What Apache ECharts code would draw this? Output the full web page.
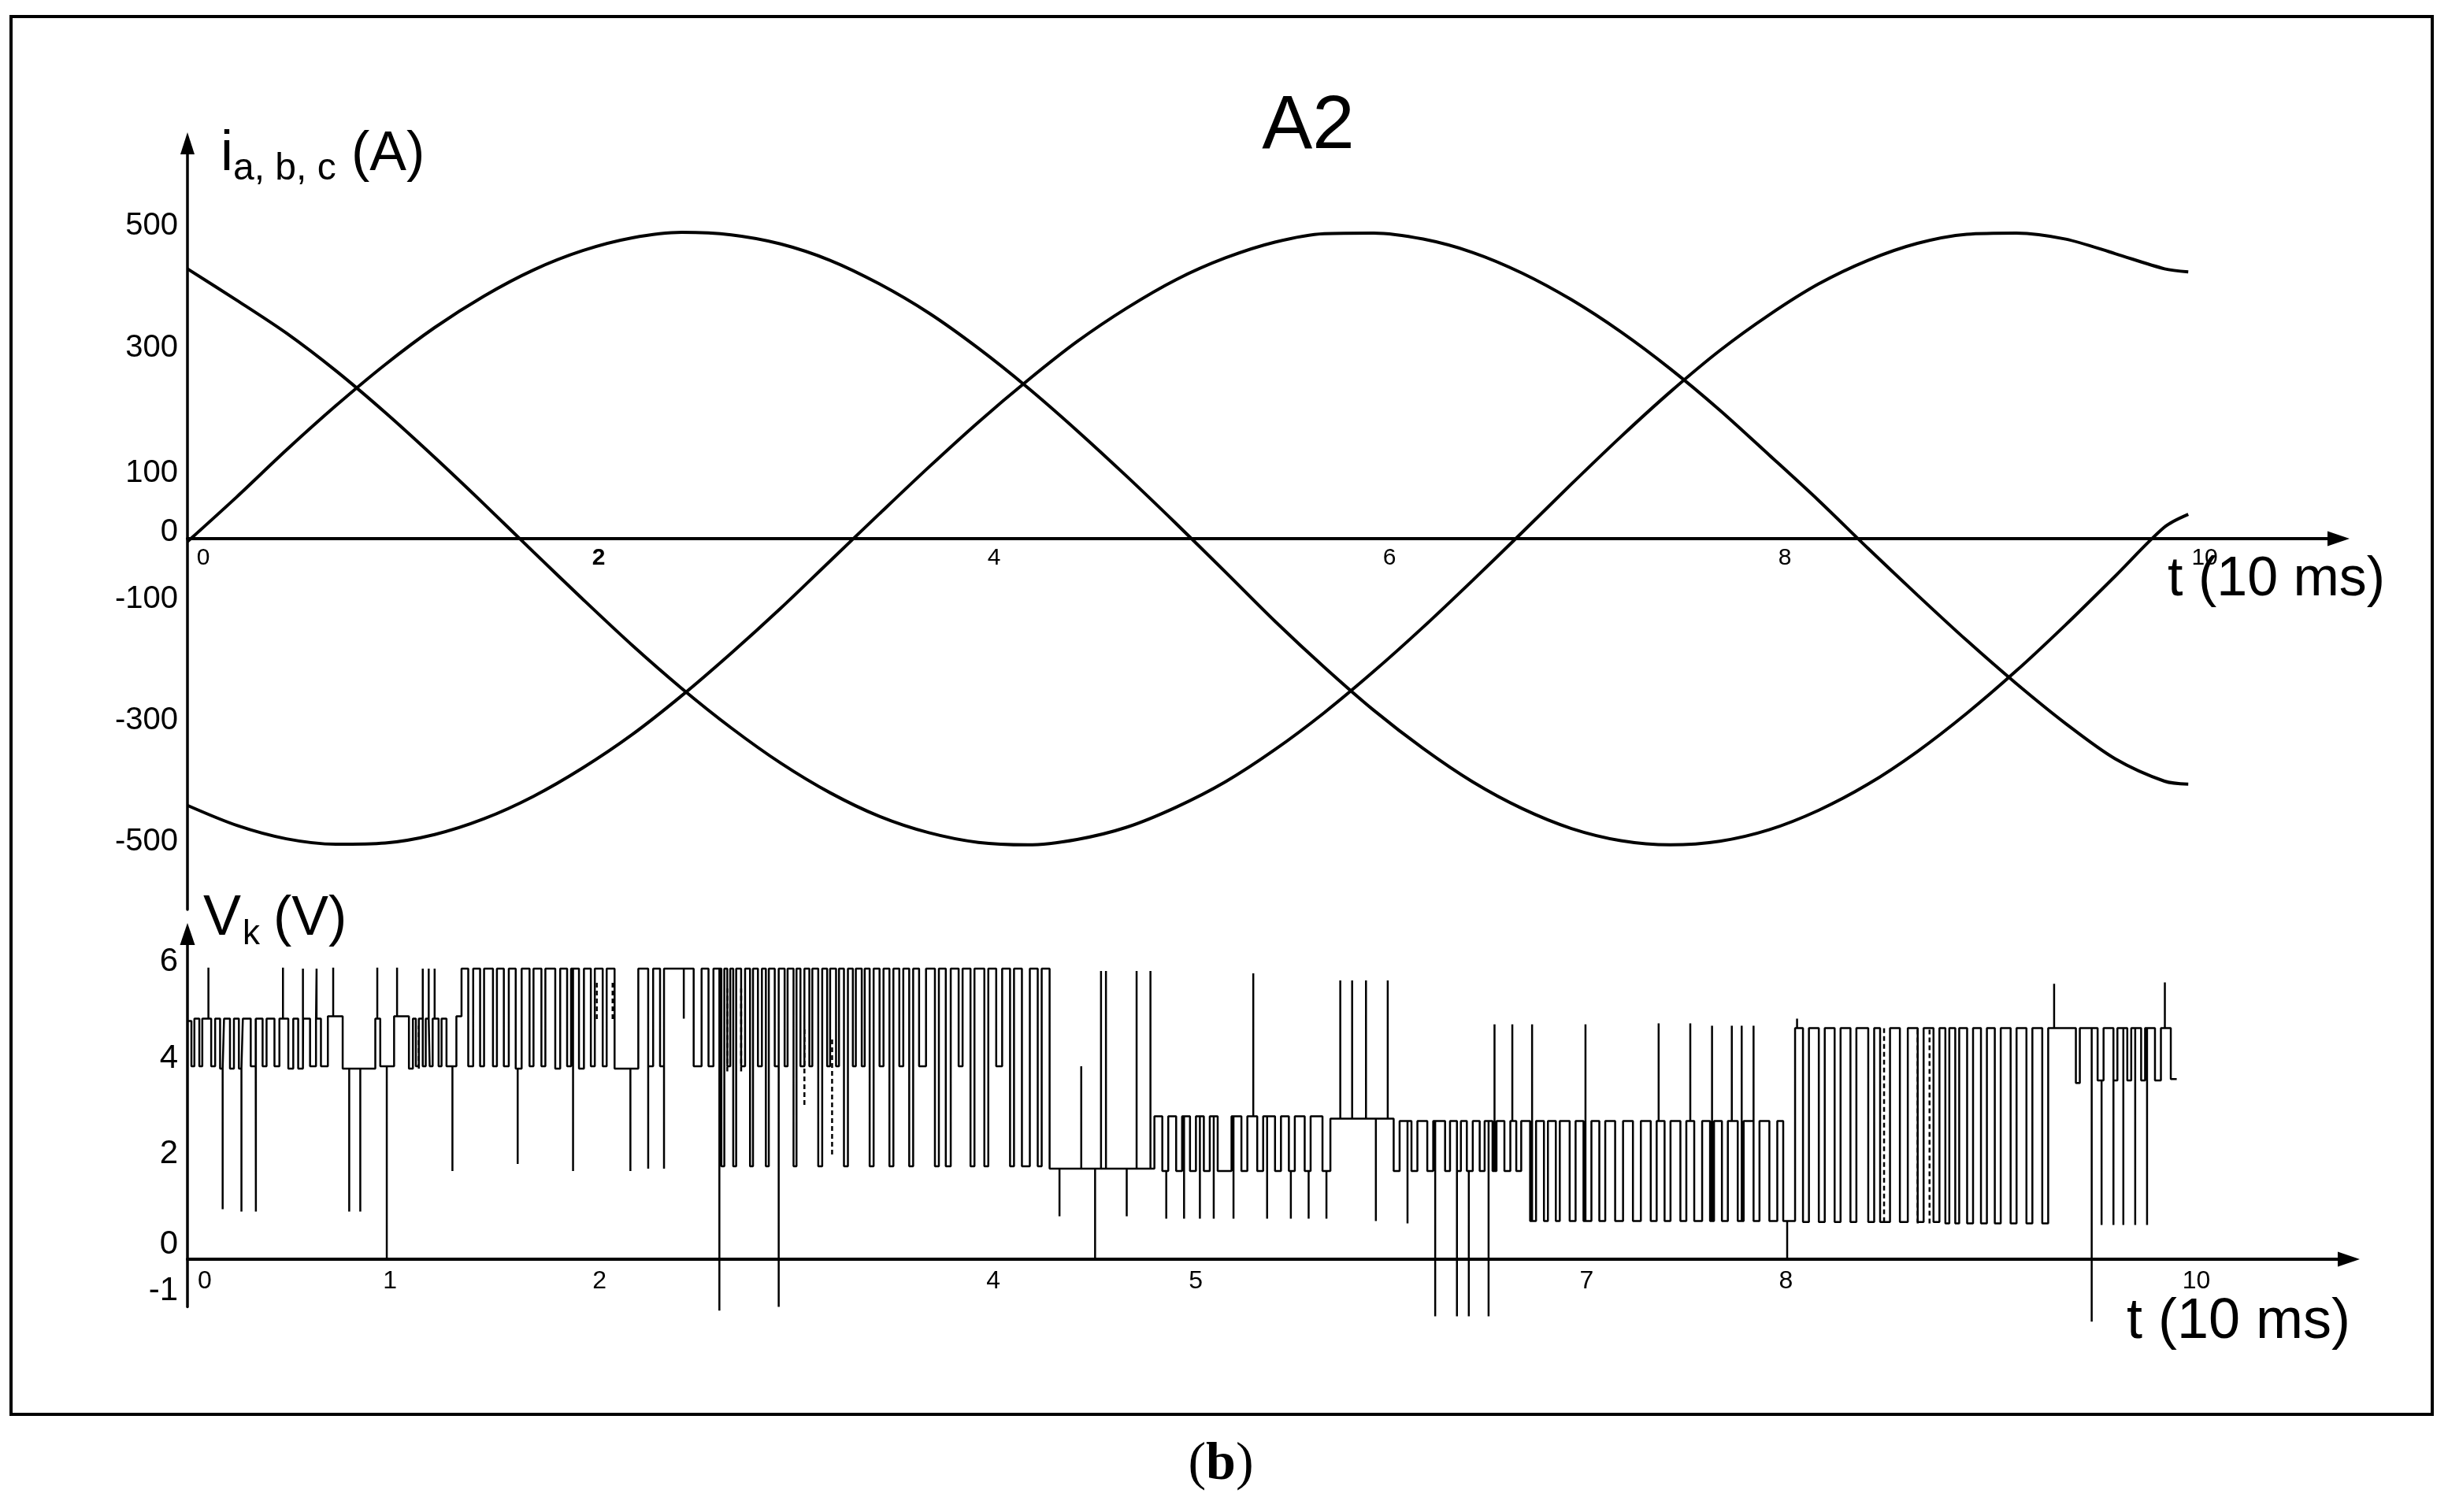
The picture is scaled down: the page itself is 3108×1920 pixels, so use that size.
<!DOCTYPE html>
<html>
<head>
<meta charset="utf-8">
<title>A2</title>
<script src="https://cdn.jsdelivr.net/npm/echarts@6.0.0/dist/echarts.min.js"></script>
<style>
  html, body { margin: 0; padding: 0; background: #fff; }
  #chart { width: 3108px; height: 1920px; }
</style>
</head>
<body>
<div id="chart"></div>
<script>
// phase currents i_a, i_b, i_c (A), every 0.25 (x 10 ms)
const tSample = [0, 0.25, 0.5, 0.75, 1, 1.25, 1.5, 1.75, 2, 2.25, 2.5, 2.75, 3, 3.25, 3.5, 3.75, 4, 4.25, 4.5, 4.75,
  5, 5.25, 5.5, 5.75, 6, 6.25, 6.5, 6.75, 7, 7.25, 7.5, 7.75, 8, 8.25, 8.5, 8.75, 9, 9.25, 9.5, 9.75, 10, 10.12];
const iA = [445, 393, 339, 277, 208, 134, 57, -22, -100, -176, -247, -312, -370, -419, -458, -485, -501, -505, -496, -476,
  -443, -401, -348, -287, -219, -146, -69, 10, 90, 168, 242, 310, 369, 420, 459, 487, 502, 504, 494, 470, 445, 440];
const iB = [-5, 69, 146, 219, 287, 348, 400, 443, 475, 496, 505, 501, 486, 459, 420, 372, 314, 249, 178, 103,
  25, -55, -136, -212, -283, -346, -401, -445, -478, -498, -505, -499, -480, -448, -405, -351, -288, -218, -142, -62, 19, 40];
const iC = [-440, -473, -495, -504, -502, -488, -462, -425, -378, -323, -259, -189, -115, -37, 41, 118, 192, 261, 325, 380,
  427, 463, 489, 503, 504, 494, 472, 438, 394, 341, 280, 212, 138, 63, -16, -93, -168, -239, -305, -363, -400, -405];

// V_k (V): level changes [t, new level] and short spikes [t, tip]
const vkEdges = [
  [0, 5.0], [0.02, 4.05], [0.035, 5.05], [0.06, 4.05], [0.075, 5.05], [0.12, 4.05], [0.14, 5.05], [0.165, 4.0],
  [0.185, 5.05], [0.215, 4.0], [0.235, 5.05], [0.26, 4.0], [0.28, 5.05], [0.32, 4.05], [0.345, 5.05], [0.38, 4.05],
  [0.40, 5.05], [0.44, 4.05], [0.465, 5.05], [0.51, 4.0], [0.535, 5.05], [0.56, 4.0], [0.585, 5.05], [0.62, 4.05],
  [0.65, 5.05], [0.675, 4.05], [0.71, 5.1], [0.785, 4.0],
  [0.95, 5.05], [0.975, 4.05], [1.045, 5.1], [1.12, 4.0],
  [1.14, 5.05], [1.155, 4.05], [1.17, 5.05], [1.19, 4.05], [1.205, 5.05], [1.225, 4.05], [1.24, 5.05], [1.27, 4.05],
  [1.285, 5.05], [1.31, 4.05], [1.36, 5.1],
  [1.386, 6.1], [1.42, 4.05], [1.445, 6.1], [1.48, 4.05], [1.50, 6.1], [1.545, 4.05], [1.565, 6.1], [1.60, 4.05],
  [1.625, 6.1], [1.66, 4.0], [1.69, 6.1], [1.73, 4.05], [1.75, 6.1], [1.79, 4.05], [1.81, 6.1], [1.86, 4.0],
  [1.885, 6.1], [1.92, 4.05], [1.94, 6.1], [1.98, 4.0], [2.005, 6.1], [2.04, 4.05], [2.06, 6.1], [2.10, 4.05],
  [2.12, 6.1], [2.16, 4.0],
  [2.28, 6.1], [2.33, 4.05], [2.355, 6.1], [2.39, 4.05], [2.41, 6.1], [2.56, 4.05],
  [2.60, 6.1], [2.635, 4.05], [2.66, 6.1], [2.70, 1.95], [2.715, 6.1], [2.73, 4.05], [2.745, 6.1], [2.76, 1.95],
  [2.775, 6.1], [2.80, 4.05], [2.82, 6.1], [2.845, 1.95], [2.86, 6.1], [2.885, 4.05], [2.905, 6.1], [2.925, 1.95],
  [2.94, 6.1], [2.97, 4.05], [2.99, 6.1], [3.02, 4.05], [3.035, 6.1], [3.065, 1.95], [3.08, 6.1], [3.10, 4.05],
  [3.12, 6.1], [3.145, 4.05], [3.16, 6.1], [3.19, 1.95], [3.21, 6.1], [3.235, 4.05], [3.25, 6.1], [3.28, 4.05],
  [3.295, 6.1], [3.32, 1.95], [3.34, 6.1], [3.365, 4.05], [3.38, 6.1], [3.41, 4.05], [3.425, 6.1], [3.45, 1.95],
  [3.47, 6.1], [3.50, 4.05], [3.52, 6.1], [3.55, 1.95], [3.57, 6.1], [3.60, 4.05], [3.62, 6.1], [3.65, 1.95],
  [3.67, 6.1], [3.70, 4.05], [3.735, 6.1], [3.78, 1.95], [3.80, 6.1], [3.835, 1.95], [3.86, 6.1], [3.90, 4.05],
  [3.92, 6.1], [3.96, 1.95], [3.98, 6.1], [4.03, 1.95], [4.05, 6.1], [4.09, 4.05], [4.12, 6.1], [4.16, 1.95],
  [4.18, 6.1], [4.22, 1.95], [4.26, 6.1], [4.30, 1.95], [4.32, 6.1], [4.36, 1.9],
  [4.89, 3.0], [4.93, 1.85], [4.96, 3.0], [5.0, 1.85], [5.03, 3.0], [5.07, 1.85], [5.10, 3.0], [5.14, 1.85],
  [5.17, 3.0], [5.21, 1.85], [5.28, 3.0], [5.33, 1.85], [5.36, 3.0], [5.41, 1.85], [5.44, 3.0], [5.50, 1.85],
  [5.53, 3.0], [5.57, 1.85], [5.60, 3.0], [5.65, 1.85], [5.68, 3.0], [5.74, 1.85], [5.78, 2.95],
  [6.10, 1.85], [6.13, 2.9], [6.19, 1.85], [6.22, 2.9], [6.27, 1.85], [6.30, 2.9],
  [6.36, 1.85], [6.385, 2.9], [6.42, 1.85], [6.44, 2.9], [6.47, 1.85], [6.50, 2.9], [6.535, 1.85], [6.56, 2.9],
  [6.60, 1.85], [6.62, 2.9], [6.66, 1.85], [6.69, 2.9], [6.72, 1.85], [6.745, 2.9], [6.79, 0.8], [6.82, 2.9],
  [6.86, 0.8], [6.88, 2.9], [6.92, 0.8], [6.94, 2.9], [6.99, 0.8], [7.02, 2.9], [7.06, 0.8], [7.10, 2.9],
  [7.14, 0.8], [7.17, 2.9], [7.22, 0.8], [7.26, 2.9], [7.31, 0.8], [7.35, 2.9], [7.40, 0.8], [7.43, 2.9],
  [7.47, 0.8], [7.50, 2.9], [7.55, 0.8], [7.58, 2.9], [7.62, 0.8], [7.66, 2.9], [7.70, 0.8], [7.72, 2.9],
  [7.76, 0.8], [7.79, 2.9], [7.84, 0.8], [7.87, 2.9], [7.92, 0.8], [7.95, 2.9], [8.0, 0.8], [8.04, 2.9], [8.07, 0.8],
  [8.13, 4.85], [8.17, 0.78], [8.20, 4.85], [8.25, 0.78], [8.28, 4.85], [8.33, 0.78], [8.36, 4.85], [8.41, 0.78],
  [8.44, 4.85], [8.50, 0.78], [8.53, 4.85], [8.56, 0.78], [8.61, 4.85], [8.66, 0.78], [8.70, 4.85], [8.75, 0.78],
  [8.78, 4.85], [8.83, 0.78], [8.86, 4.85], [8.89, 0.75], [8.91, 4.85], [8.94, 0.75], [8.96, 4.85], [9.0, 0.75],
  [9.03, 4.85], [9.07, 0.75], [9.10, 4.85], [9.14, 0.75], [9.17, 4.85], [9.22, 0.75], [9.25, 4.85], [9.30, 0.75],
  [9.33, 4.85], [9.38, 0.75], [9.41, 4.85], [9.55, 3.7], [9.57, 4.85], [9.66, 3.75], [9.69, 4.85], [9.74, 3.75],
  [9.76, 4.85], [9.81, 3.75], [9.83, 4.85], [9.88, 3.75], [9.90, 4.85], [9.95, 3.75], [9.98, 4.85], [10.03, 3.78],
  [10.06, 3.78]
];
const vkSpikes = [
  [0.106, 6.12], [0.178, 1.05], [0.273, 1.0], [0.346, 1.0], [0.483, 6.12], [0.584, 6.1], [0.653, 6.1], [0.737, 6.12],
  [0.818, 1.0], [0.874, 1.0], [0.96, 6.12], [1.008, 0.0], [1.06, 6.12], [1.19, 6.1], [1.22, 6.1], [1.25, 6.1],
  [1.34, 1.85], [1.67, 2.0], [1.95, 1.85], [2.24, 1.85], [2.33, 1.9], [2.41, 1.9], [2.51, 5.05], [2.69, -1.08],
  [2.99, -1.0], [4.41, 0.9], [4.52, 4.05], [4.59, 0.0], [4.62, 6.05], [4.645, 6.05], [4.75, 0.9], [4.80, 6.05],
  [4.87, 6.05], [4.95, 0.85], [5.04, 0.85], [5.12, 0.85], [5.19, 0.85], [5.29, 0.85], [5.39, 6.0], [5.46, 0.85],
  [5.58, 0.85], [5.67, 0.85], [5.76, 0.85], [5.83, 5.85], [5.89, 5.85], [5.96, 5.85], [6.01, 0.8], [6.07, 5.85],
  [6.17, 0.75], [6.31, -1.2], [6.42, -1.2], [6.48, -1.2], [6.58, -1.2], [6.61, 4.93], [6.70, 4.93], [6.80, 4.93],
  [7.07, 4.93], [7.44, 4.95], [7.60, 4.95], [7.71, 4.9], [7.81, 4.9], [7.86, 4.9], [7.92, 4.9], [8.09, 0.0],
  [8.14, 5.05], [9.44, 5.78], [9.63, -1.31], [9.68, 0.72], [9.74, 0.72], [9.79, 0.72], [9.85, 0.72], [9.91, 0.72],
  [10.0, 5.81]
];
// dotted verticals in the V_k trace: time, lower and upper end (V)
const vkDotT = [1.17, 2.07, 2.15, 2.73, 2.80, 3.12, 3.26, 8.58, 8.75, 8.81];
const vkDotLow = [4.0, 5.04, 5.04, 3.94, 3.94, 3.24, 2.2, 0.78, 0.75, 0.75];
const vkDotHigh = [4.9, 5.85, 5.85, 5.68, 5.68, 4.87, 4.64, 4.86, 4.86, 4.86];

// tick labels
const iTicks = [500, 300, 100, 0, -100, -300, -500];
const tTicksTop = [0, 2, 4, 6, 8, 10];
const vkTicks = [6, 4, 2, 0, -1];
const tTicksBottom = [0, 1, 2, 4, 5, 7, 8, 10];

// turn level changes + spikes into one polyline
function buildTrace(edges, spikes) {
  const ev = [];
  edges.forEach(e => ev.push({ t: e[0], v: e[1], spike: false }));
  spikes.forEach(s => ev.push({ t: s[0], v: s[1], spike: true }));
  ev.sort((a, b) => a.t - b.t);
  const pts = [];
  let cur = null;
  ev.forEach(e => {
    if (!e.spike) {
      if (cur !== null) pts.push([e.t, cur]);
      pts.push([e.t, e.v]);
      cur = e.v;
    } else {
      pts.push([e.t, cur], [e.t, e.v], [e.t, cur]);
    }
  });
  return pts;
}

// separate vertical segments, broken by nulls
const dotted = [];
vkDotT.forEach((t, i) => dotted.push([t, vkDotLow[i]], [t, vkDotHigh[i]], null));

const FONT = 'Liberation Sans, Arial, sans-serif';
const black = '#000';

// the hand-placed labels sit off their ticks: x labels to the right,
// y labels a little above (label box bottom on the tick)
const topShift = { 0: 40, 2: 40, 4: 40, 6: 40, 8: 40, 10: 102 };
const bottomShift = { 0: 44, 1: 12, 2: 42, 4: 38, 5: 50, 7: 38, 8: 42, 10: 80 };
const iLift = { 500: 24, 300: 22, 100: 12, 0: 16, '-100': 1, '-300': 1, '-500': 1 };
const vkLift = { 6: 30, 4: 26, 2: 26, 0: 38, '-1': 40 };

const key = v => 'k' + (v < 0 ? 'm' : 'p') + Math.abs(v);

function shiftRich(shift, size, boldKey) {
  const rich = {};
  Object.keys(shift).forEach(k => {
    rich[key(Number(k))] = {
      fontSize: size, fontFamily: FONT, color: black,
      fontWeight: String(k) === boldKey ? 'bold' : 'normal',
      padding: [0, 0, 0, shift[k]]
    };
  });
  return rich;
}

function liftRich(lift, size) {
  const rich = {};
  Object.keys(lift).forEach(k => {
    rich[key(Number(k))] = { fontSize: size, fontFamily: FONT, color: black, lineHeight: lift[k] };
  });
  return rich;
}

const chart = echarts.init(document.getElementById('chart'), null, { renderer: 'canvas' });

chart.setOption({
  backgroundColor: '#fff',
  animation: false,
  grid: [
    { left: 238, top: 182, width: 2731, height: 973, containLabel: false, outerBoundsMode: 'none' },
    { left: 238, top: 1186, width: 2744, height: 473.5, containLabel: false, outerBoundsMode: 'none' }
  ],
  xAxis: [
    {
      // the t axis sits on i = 0, 471 px above the grid bottom
      gridIndex: 0, type: 'value', min: 0, max: 10.88, position: 'bottom', offset: -471,
      axisLine: { onZero: false, symbol: ['none', 'triangle'], symbolSize: [19, 28], lineStyle: { color: black, width: 4 } },
      axisTick: { show: false }, splitLine: { show: false },
      axisLabel: {
        customValues: tTicksTop, margin: 10,
        formatter: v => '{' + key(v) + '|' + v + '}',
        rich: shiftRich(topShift, 30, '2')
      }
    },
    {
      gridIndex: 1, type: 'value', min: 0, max: 10.93, position: 'bottom', offset: -60.5,
      axisLine: { onZero: false, symbol: ['none', 'triangle'], symbolSize: [19, 28], lineStyle: { color: black, width: 4 } },
      axisTick: { show: false }, splitLine: { show: false },
      axisLabel: {
        customValues: tTicksBottom, margin: 12,
        formatter: v => '{' + key(v) + '|' + v + '}',
        rich: shiftRich(bottomShift, 32, null)
      }
    }
  ],
  yAxis: [
    {
      gridIndex: 0, type: 'value', min: -611.7, max: 651.9,
      axisLine: { show: true, onZero: false, symbol: ['none', 'triangle'], symbolSize: [18, 28], lineStyle: { color: black, width: 3.5 } },
      axisTick: { show: false }, splitLine: { show: false },
      axisLabel: {
        customValues: iTicks, margin: 12, verticalAlign: 'bottom',
        formatter: v => '{' + key(v) + '|' + v + '}',
        rich: liftRich(iLift, 40)
      }
    },
    {
      gridIndex: 1, type: 'value', min: -1, max: 6.826,
      axisLine: { show: true, onZero: false, symbol: ['none', 'triangle'], symbolSize: [19, 28], lineStyle: { color: black, width: 3.5 } },
      axisTick: { show: false }, splitLine: { show: false },
      axisLabel: {
        customValues: vkTicks, margin: 12, verticalAlign: 'bottom',
        formatter: v => '{' + key(v) + '|' + v + '}',
        rich: liftRich(vkLift, 42)
      }
    }
  ],
  series: [
    ...[iA, iB, iC].map(vals => ({
      type: 'line', xAxisIndex: 0, yAxisIndex: 0,
      data: tSample.map((t, i) => [t, vals[i]]),
      smooth: 0.3, symbol: 'none', clip: false,
      lineStyle: { color: black, width: 4 }
    })),
    {
      type: 'line', xAxisIndex: 1, yAxisIndex: 1,
      data: buildTrace(vkEdges, vkSpikes),
      symbol: 'none', clip: false,
      lineStyle: { color: black, width: 2.5 }
    },
    {
      type: 'line', xAxisIndex: 1, yAxisIndex: 1,
      data: dotted, connectNulls: false,
      symbol: 'none', clip: false,
      lineStyle: { color: black, width: 2.5, type: [6, 4] }
    }
  ],
  graphic: [
    { type: 'rect', shape: { x: 14, y: 21, width: 3074, height: 1775 }, style: { fill: 'none', stroke: black, lineWidth: 4 }, silent: true },
    { type: 'text', x: 1661, y: 162, style: { text: 'A2', font: '96px ' + FONT, fill: black, align: 'center', verticalAlign: 'middle' } },
    { type: 'text', x: 280, y: 196, style: { text: 'i', font: '72px ' + FONT, fill: black, align: 'left', verticalAlign: 'middle' } },
    { type: 'text', x: 296, y: 215, style: { text: 'a, b, c', font: '48px ' + FONT, fill: black, align: 'left', verticalAlign: 'middle' } },
    { type: 'text', x: 446, y: 197, style: { text: '(A)', font: '70px ' + FONT, fill: black, align: 'left', verticalAlign: 'middle' } },
    { type: 'text', x: 2752, y: 737, style: { text: 't (10 ms)', font: '70px ' + FONT, fill: black, align: 'left', verticalAlign: 'middle' } },
    { type: 'text', x: 258, y: 1167, style: { text: 'V', font: '72px ' + FONT, fill: black, align: 'left', verticalAlign: 'middle' } },
    { type: 'text', x: 308, y: 1187, style: { text: 'k', font: '44px ' + FONT, fill: black, align: 'left', verticalAlign: 'middle' } },
    { type: 'text', x: 347, y: 1168, style: { text: '(V)', font: '70px ' + FONT, fill: black, align: 'left', verticalAlign: 'middle' } },
    { type: 'text', x: 2700, y: 1679, style: { text: 't (10 ms)', font: '72px ' + FONT, fill: black, align: 'left', verticalAlign: 'middle' } },
    {
      type: 'text', x: 1550, y: 1860,
      style: {
        text: '{p|(}{b|b}{p|)}', align: 'center', verticalAlign: 'middle',
        rich: {
          p: { fontSize: 68, fontFamily: 'Liberation Serif, Times New Roman, serif', fill: black },
          b: { fontSize: 68, fontFamily: 'Liberation Serif, Times New Roman, serif', fontWeight: 'bold', fill: black }
        }
      }
    }
  ]
});
</script>
</body>
</html>
